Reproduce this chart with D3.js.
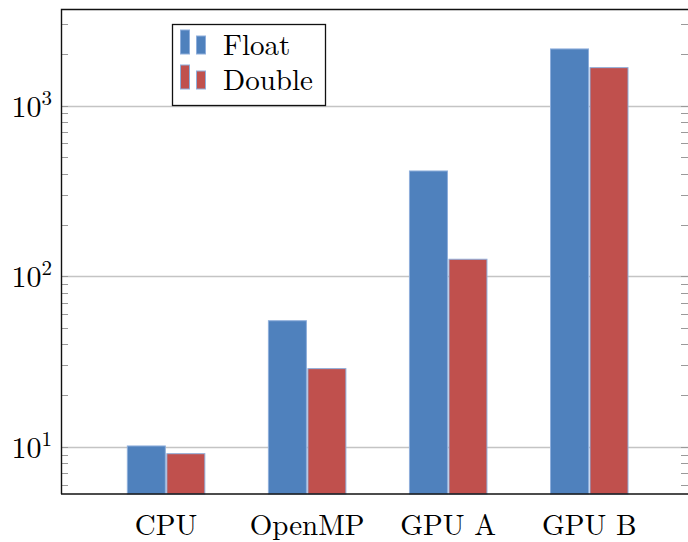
<!DOCTYPE html>
<html>
<head>
<meta charset="utf-8">
<script src="https://cdn.jsdelivr.net/npm/d3@7"></script>
<style>
  html, body { margin: 0; padding: 0; background: #fff; }
  svg { display: block; }
</style>
</head>
<body>
<svg id="chart" width="688" height="542"></svg>
<script>
// Throughput per platform (log scale)
const categories = ["CPU", "OpenMP", "GPU A", "GPU B"];
const floatValues = [10.1, 54.8, 414, 2151];
const doubleValues = [9.1, 28.7, 125.7, 1671];
const seriesNames = ["Float", "Double"];
const majorTicks = [10, 100, 1000];

const colors = { Float: "#4f81bd", Double: "#c0504d" };
const edge = "#8eaedb";
const FONT = "'Latin Modern Roman', 'CMU Serif', 'Liberation Serif', 'DejaVu Serif', 'Noto Serif', Tinos, 'Nimbus Roman', 'FreeSerif', Times, serif";

const plot = { left: 61, right: 688, top: 9.5, bottom: 494 };

const svg = d3.select("#chart");

const y = d3.scaleLog()
  .domain([5.28, 3664])
  .range([plot.bottom, plot.top]);

const x = d3.scaleLinear()
  .domain([-0.745, 3.7])
  .range([plot.left, plot.right]);

// Grid lines at decades
svg.append("g")
  .selectAll("line")
  .data(majorTicks)
  .join("line")
  .attr("x1", plot.left).attr("x2", plot.right)
  .attr("y1", d => Math.round(y(d)) + 0.5).attr("y2", d => Math.round(y(d)) + 0.5)
  .attr("stroke", "#c4c4c4").attr("stroke-width", 1.3);

// Minor ticks (1..9 per decade) inside both vertical axes
const minorTicks = [];
for (let e = 0; e <= 3; e++) {
  for (let m = 1; m <= 9; m++) {
    const v = m * Math.pow(10, e);
    if (v >= y.domain()[0] && v <= y.domain()[1]) minorTicks.push(v);
  }
}
const tickG = svg.append("g");
tickG.selectAll("line.l")
  .data(minorTicks)
  .join("line")
  .attr("class", "l")
  .attr("x1", plot.left).attr("x2", plot.left + 7)
  .attr("y1", d => Math.round(y(d)) + 0.5).attr("y2", d => Math.round(y(d)) + 0.5)
  .attr("stroke", "#9a9a9a").attr("stroke-width", 1);
tickG.selectAll("line.r")
  .data(minorTicks)
  .join("line")
  .attr("class", "r")
  .attr("x1", plot.right - 7).attr("x2", plot.right)
  .attr("y1", d => Math.round(y(d)) + 0.5).attr("y2", d => Math.round(y(d)) + 0.5)
  .attr("stroke", "#9a9a9a").attr("stroke-width", 1);

// Bars
const barW = 38, gap = 1.5;
const series = [
  { name: "Float", values: floatValues, offset: -barW - gap / 2 },
  { name: "Double", values: doubleValues, offset: gap / 2 }
];
series.forEach(s => {
  svg.append("g")
    .selectAll("rect")
    .data(s.values)
    .join("rect")
    .attr("x", (d, i) => x(i) + s.offset)
    .attr("width", barW)
    .attr("y", d => y(d))
    .attr("height", d => plot.bottom - y(d))
    .attr("fill", colors[s.name])
    .attr("stroke", edge)
    .attr("stroke-width", 1);
});

// Frame: left, top, bottom (right edge lies just past the page border)
svg.append("path")
  .attr("d", `M${plot.left + 0.5},${plot.bottom} V${plot.top} H${plot.right}`)
  .attr("fill", "none").attr("stroke", "#111").attr("stroke-width", 1.4);
svg.append("line")
  .attr("x1", plot.left).attr("x2", plot.right)
  .attr("y1", plot.bottom).attr("y2", plot.bottom)
  .attr("stroke", "#111").attr("stroke-width", 1.6);

// Y tick labels: 10^k
const yLab = svg.append("g");
majorTicks.forEach(v => {
  const e = Math.round(Math.log10(v));
  const t = yLab.append("text")
    .attr("x", 52).attr("y", y(v) + 11)
    .attr("text-anchor", "end")
    .attr("font-family", FONT)
    .attr("font-size", 30);
  t.append("tspan").text("10");
  t.append("tspan").attr("font-size", 21).attr("dy", -12).text(e);
});

// X tick labels
svg.append("g")
  .selectAll("text")
  .data(categories)
  .join("text")
  .attr("x", (d, i) => x(i))
  .attr("y", 535)
  .attr("text-anchor", "middle")
  .attr("font-family", FONT)
  .attr("font-size", 29)
  .text(d => d);

// Legend
const lg = svg.append("g");
lg.append("rect")
  .attr("x", 172.5).attr("y", 24.5).attr("width", 153).attr("height", 81)
  .attr("fill", "#fff").attr("stroke", "#111").attr("stroke-width", 1.3);
seriesNames.forEach((name, k) => {
  const base = 54 + k * 35;
  lg.append("rect")
    .attr("x", 180.5).attr("y", base - 24).attr("width", 9).attr("height", 24)
    .attr("fill", colors[name]).attr("stroke", edge).attr("stroke-width", 1);
  lg.append("rect")
    .attr("x", 196.5).attr("y", base - 18).attr("width", 9).attr("height", 18)
    .attr("fill", colors[name]).attr("stroke", edge).attr("stroke-width", 1);
  lg.append("text")
    .attr("x", 223).attr("y", base + 1)
    .attr("font-family", FONT)
    .attr("font-size", 29)
    .text(name);
});
</script>
</body>
</html>
